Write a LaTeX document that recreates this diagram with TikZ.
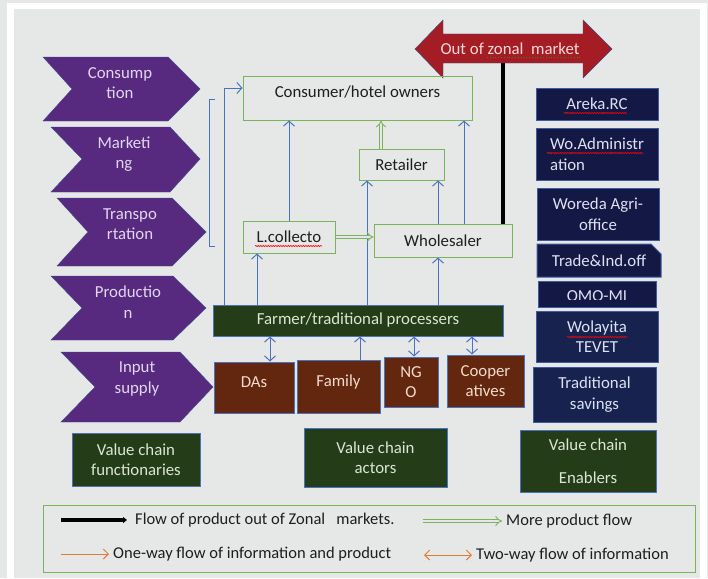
\documentclass[tikz,border=0pt]{standalone}
\usepackage{fontspec}
\setmainfont{Carlito}
\usetikzlibrary{arrows.meta,shapes.misc,decorations.pathmorphing}

\definecolor{bggrey}{HTML}{E6E7E7}
\definecolor{chevpurple}{HTML}{582A7F}
\definecolor{chevedge}{HTML}{3D4E8C}
\definecolor{chevtext}{HTML}{E2D6EE}
\definecolor{zonered}{HTML}{A51D24}
\definecolor{zonetext}{HTML}{F5D8D8}
\definecolor{boxgreen}{HTML}{7CB35F}
\definecolor{inkdark}{HTML}{1E1E1E}
\definecolor{lineblue}{HTML}{4A72C0}
\definecolor{farmgreen}{HTML}{243D18}
\definecolor{farmtext}{HTML}{DDE6D0}
\definecolor{daybrown}{HTML}{63260F}
\definecolor{browntext}{HTML}{F2DCCB}
\definecolor{navyA}{HTML}{131944}
\definecolor{navyB}{HTML}{17224F}
\definecolor{navyedge}{HTML}{3F5A9E}
\definecolor{navytext}{HTML}{DDE2F2}
\definecolor{keyorange}{HTML}{E07B39}
\definecolor{grammar}{HTML}{4B7A2A}

\tikzset{
  lbl/.style={font=\fontsize{16.8}{20.5}\selectfont, align=center, inner sep=0pt},
  greenbox/.style={lbl, draw=boxgreen, line width=1pt, text=inkdark},
  darkbox/.style={lbl, fill=farmgreen, draw=lineblue, line width=1pt, text=farmtext},
  brownbox/.style={lbl, fill=daybrown, draw=lineblue, line width=1pt, text=browntext},
  navybox/.style={lbl, fill=navyA, draw=navyedge, line width=1pt, text=navytext},
  raised/.style={text height=12pt, text depth=13pt},
  keytext/.style={lbl, font=\fontsize{16.5}{20}\selectfont, text=inkdark, anchor=west, inner xsep=4pt},
  info/.style={draw=lineblue, line width=1pt, -{Straight Barb[length=5pt,width=11pt]}},
  infotwo/.style={draw=lineblue, line width=1pt, {Straight Barb[length=5pt,width=11pt]}-{Straight Barb[length=5pt,width=11pt]}},
  moreflow/.style={draw=boxgreen, double=bggrey, double distance=2.5pt, line width=0.9pt, -{Implies}},
  outflow/.style={draw=black, line width=4pt},
  spell/.style={red, line width=0.6pt, decorate, decoration={snake, amplitude=0.6pt, segment length=2.5pt}},
}

\begin{document}
\begin{tikzpicture}[x=1pt, y=-1pt]

    % page and frame
    \useasboundingbox (0,0) rectangle (708,578);
    \fill[bggrey] (0,0) rectangle (708,578);
    \fill[white] (7,3) rectangle (707,578);
    \fill[bggrey] (14,9) rectangle (700,578);

    % functions
    \filldraw[fill=chevpurple, draw=chevedge] (43,57) -- (168,57) -- (200,89) -- (168,121) -- (43,121) -- (72,89) -- cycle;
    \node[lbl, text=chevtext] (consumption) at (120,83) {Consump\\tion};

    \filldraw[fill=chevpurple, draw=chevedge] (51,127) -- (170,127) -- (200,159) -- (170,192) -- (51,192) -- (82,159) -- cycle;
    \node[lbl, text=chevtext] (marketing) at (124,154) {Marketi\\ng};

    \filldraw[fill=chevpurple, draw=chevedge] (57,198) -- (172,198) -- (206,232) -- (172,266) -- (57,266) -- (88,232) -- cycle;
    \node[lbl, text=chevtext] (transport) at (130,224) {Transpo\\rtation};

    \filldraw[fill=chevpurple, draw=chevedge] (51,276) -- (173,276) -- (206,308) -- (173,340) -- (51,340) -- (82,308) -- cycle;
    \node[lbl, text=chevtext] (production) at (128,302) {Productio\\n};

    \filldraw[fill=chevpurple, draw=chevedge] (61,352) -- (180,352) -- (213,387) -- (180,422) -- (61,422) -- (95,387) -- cycle;
    \node[lbl, text=chevtext] (inputsup) at (137,379) {Input\\supply};

    \draw[lineblue, line width=1pt] (215,99) -- (209,99) -- (209,246) -- (215,246);

    % out of zonal market
    \filldraw[fill=zonered, draw=chevedge] (415,49) -- (443,20) -- (443,34) -- (583,34) -- (583,20) -- (612,49)
        -- (583,78) -- (583,63) -- (443,63) -- (443,78) -- cycle;
    \node[lbl, text=zonetext] (outmkt) at (510,49) {Out of zonal\ \ market};
    \draw[grammar, dotted, line width=0.8pt] (487,57) -- (580,57);
    \coordinate (outfoot) at (503,63);

    % actors
    \node[greenbox, raised, minimum width=229pt, minimum height=44pt] (consumer) at (357.5,98) {Consumer/hotel owners};
    \node[greenbox, minimum width=85pt, minimum height=31pt] (retailer) at (401.5,164.5) {Retailer};
    \node[greenbox, minimum width=92pt, minimum height=32pt] (lcol) at (289,237) {L.collecto};
    \draw[spell] (255,246) -- (322,246);
    \node[greenbox, minimum width=138pt, minimum height=33pt] (wholesaler) at (443,240.5) {Wholesaler};
    \node[darkbox, minimum width=290pt, minimum height=31pt] (farmer) at (358,320.5) {Farmer/traditional processers};

    \node[brownbox, raised, minimum width=80pt, minimum height=51pt] (das) at (254,387.5) {DAs};
    \node[brownbox, raised, minimum width=83pt, minimum height=53pt] (family) at (338.5,386.5) {Family};
    \node[brownbox, minimum width=54pt, minimum height=50pt] (ngo) at (411,382) {NG\\O};
    \node[brownbox, minimum width=77pt, minimum height=52pt] (coop) at (485.5,381) {Cooper\\atives};

    % enablers
    \node[navybox, minimum width=122pt, minimum height=32pt] (areka) at (597,104) {Areka.RC};
    \draw[spell] (564,113) -- (627,113);
    \node[navybox, align=left, minimum width=122pt, minimum height=52pt] (woadmin) at (597,154) {Wo.Administr\\ation};
    \draw[spell] (547,153) -- (643,153);
    \node[navybox, minimum width=122pt, minimum height=52pt] (woreda) at (598,214) {Woreda Agri-\\office};
    \node[navybox, chamfered rectangle, chamfered rectangle corners=north east, chamfered rectangle sep=5pt,
          minimum width=124pt, minimum height=33pt] (trade) at (599,260.5) {Trade\&Ind.off};
    \node[navybox, minimum width=118pt, minimum height=26pt] (omo) at (597,294) {};
    \begin{scope}
      \clip (538,281) rectangle (656,299);
      \node[lbl, text=navytext] (omotext) at (597,296.5) {OMO-MI};
    \end{scope}
    \node[navybox, fill=navyB, minimum width=122pt, minimum height=51pt] (wolayita) at (597,336.5) {Wolayita\\TEVET};
    \draw[spell] (567,337) -- (627,337);
    \node[navybox, fill=navyB, minimum width=123pt, minimum height=55pt] (tradsav) at (594.5,394.5) {Traditional\\savings};

    % group labels
    \node[darkbox, minimum width=128pt, minimum height=53pt] (vcfunc) at (136,459.5) {Value chain\\functionaries};
    \node[darkbox, minimum width=143pt, minimum height=59pt] (vcact) at (375.5,457.5) {Value chain\\actors};
    \node[darkbox, minimum width=136pt, minimum height=62pt] (vcenab) at (588,461) {Value chain\\[12.5pt]Enablers};

    % flows
    \draw[info] (lcol.north) -- (lcol.north |- consumer.south);
    \draw[info] ([xshift=-101pt]farmer.north) -- ([xshift=-32pt]lcol.south);
    \draw[info] ([xshift=9pt]farmer.north) -- ([xshift=-34.5pt]retailer.south);
    \draw[info] ([xshift=-5pt]wholesaler.north) -- ([xshift=36.5pt]retailer.south);
    \draw[info] ([xshift=21pt]wholesaler.north) -- ([xshift=106.5pt]consumer.south);
    \draw[info] ([xshift=80pt]farmer.north) -- ([xshift=-5pt]wholesaler.south);
    \draw[info] ([xshift=-134pt]farmer.north) |- ([yshift=10pt]consumer.west);

    \draw[infotwo] ([xshift=-88pt]farmer.south) -- ([xshift=16pt]das.north);
    \draw[info] ([xshift=21.5pt]family.north) -- ([xshift=2pt]farmer.south);
    \draw[infotwo] ([xshift=56pt]farmer.south) -- ([xshift=3pt]ngo.north);
    \draw[infotwo] ([xshift=114pt]farmer.south) -- ([xshift=-13.5pt]coop.north);

    \draw[moreflow] (lcol.east) -- (lcol.east -| wholesaler.west);
    \coordinate (rtop) at ([xshift=-20.5pt]retailer.north);
    \draw[moreflow] (rtop) -- (rtop |- consumer.south);

    \draw[outflow] (outfoot |- wholesaler.north) -- (outfoot);

    % legend
    \node[draw=boxgreen, line width=1pt, minimum width=652pt, minimum height=67pt] (legend) at (369,538.5) {};
    \coordinate (keyout) at (61,520);
    \node[keytext, inner xsep=8pt] (lgout) at (127,520) {Flow of product out of Zonal\ \ \ markets.};
    \draw[outflow, -{Triangle[length=4pt,width=6pt]}] (keyout) -- (lgout.west);

    \coordinate (keymore) at (423,521);
    \node[keytext] (lgmore) at (502,521) {More product flow};
    \draw[moreflow] (keymore) -- (lgmore.west);

    \coordinate (keyone) at (61,554);
    \node[keytext] (lgone) at (109,554) {One-way flow of information and product};
    \draw[keyorange, line width=1pt, -{Straight Barb[length=5pt,width=10pt]}] (keyone) -- (lgone.west);

    \coordinate (keytwo) at (424,555);
    \node[keytext] (lgtwo) at (472,555) {Two-way flow of information};
    \draw[keyorange, line width=1pt, {Straight Barb[length=5pt,width=10pt]}-{Straight Barb[length=5pt,width=10pt]}] (keytwo) -- (lgtwo.west);

\end{tikzpicture}
\end{document}
